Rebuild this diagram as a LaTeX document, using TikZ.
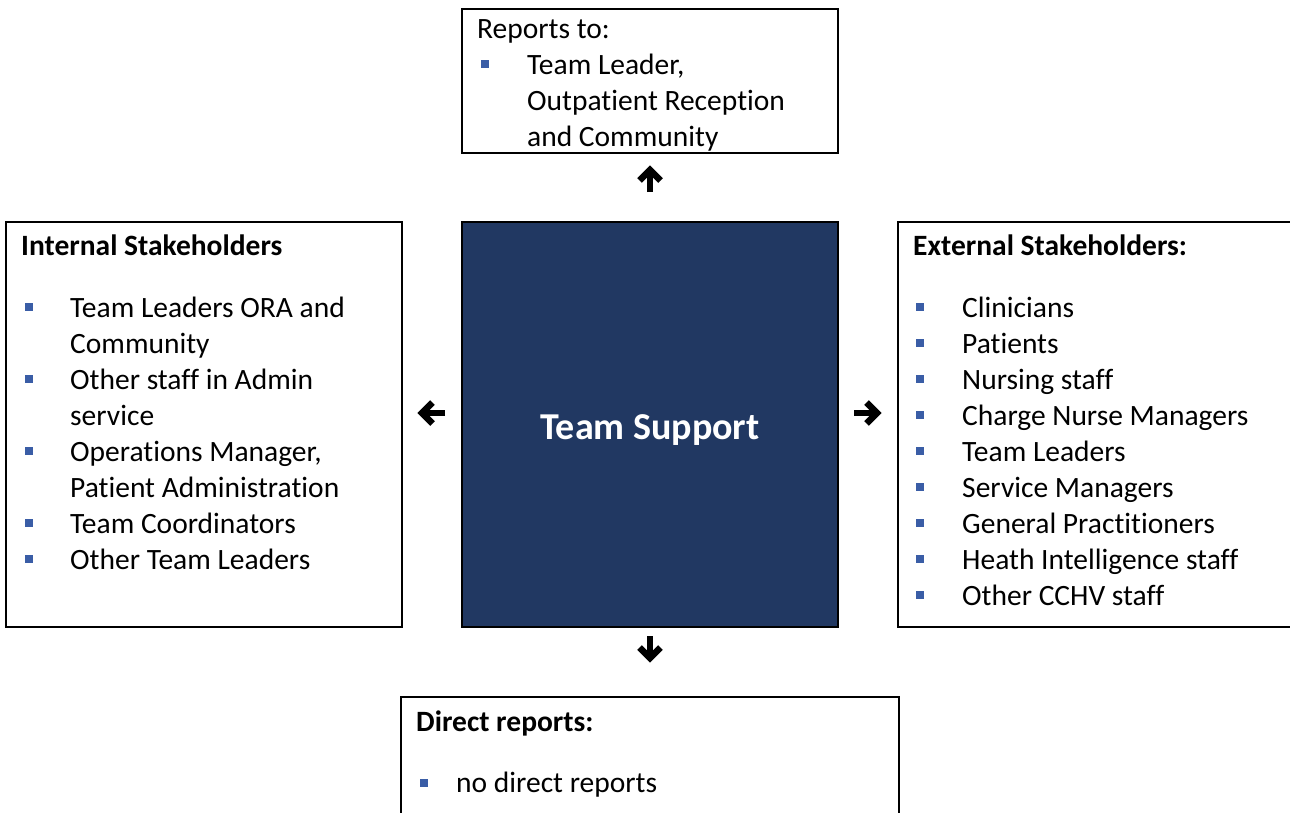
\documentclass[tikz,border=0pt]{standalone}
\usepackage{fontspec}
\setmainfont{Carlito}[Ligatures=NoCommon]
\usetikzlibrary{arrows.meta}
\definecolor{navy}{HTML}{213862}
\definecolor{bulletblue}{HTML}{3A5DA6}
\begin{document}
\begin{tikzpicture}[x=1pt,y=-1pt,
  boxframe/.style={draw=black, line width=2pt, inner sep=0pt, outer sep=0pt, anchor=north west},
  txt/.style={anchor=base west, inner sep=0pt, font=\fontsize{29.5}{36}\selectfont},
  hdr/.style={anchor=base west, inner sep=0pt, font=\fontsize{29.5}{36}\selectfont\bfseries},
  bul/.style={fill=bulletblue, minimum size=8pt, inner sep=0pt, draw=none},
  shaft/.style={line width=5.5pt},
  head/.style={line width=6.5pt, line join=miter}]
\useasboundingbox (0,0) rectangle (1290,812);

% boxes
\node[boxframe, minimum width=376pt, minimum height=144pt] (topbox) at (462,9) {};
\node[boxframe, fill=navy, minimum width=376pt, minimum height=405pt] (center) at (462,222) {};
\node[boxframe, minimum width=396pt, minimum height=405pt] (leftbox) at (6,222) {};
\node[boxframe, minimum width=420pt, minimum height=405pt] (rightbox) at (898,222) {};
\node[boxframe, minimum width=498pt, minimum height=150pt] (botbox) at (401,697) {};

% centre label
\node[anchor=base, inner sep=0pt, text=white, font=\fontsize{38}{42}\selectfont\bfseries] (ts) at (650,439) {Team Support};

% top box
\node[txt] (rt) at (477,38) {Reports to:};
\node[bul] (rb1) at (484.5,64) {};
\node[txt] (rt1) at (527,74) {Team Leader,};
\node[txt] (rt2) at (527,110) {Outpatient Reception};
\node[txt] (rt3) at (527,146) {and Community};

% left box
\node[hdr] (lh) at (21,255) {Internal Stakeholders};
\foreach \t/\yy [count=\i] in {{Team Leaders ORA and}/317, {Community}/353, {Other staff in Admin}/389, {service}/425, {Operations Manager,}/461, {Patient Administration}/497, {Team Coordinators}/533, {Other Team Leaders}/569}
  \node[txt] (lt\i) at (70,\yy) {\t};
\foreach \yy [count=\i] in {317,389,461,533,569}
  \node[bul] (lb\i) at (28.5,\yy-10) {};

% right box
\node[hdr] (rh) at (913,255) {External Stakeholders:};
\foreach \t/\yy [count=\i] in {{Clinicians}/317, {Patients}/353, {Nursing staff}/389, {Charge Nurse Managers}/425, {Team Leaders}/461, {Service Managers}/497, {General Practitioners}/533, {Heath Intelligence staff}/569, {Other CCHV staff}/605}
  {\node[txt] (xt\i) at (962,\yy) {\t};
   \node[bul] (xb\i) at (919.5,\yy-10) {};}

% bottom box
\node[hdr] (bh) at (416,731) {Direct reports:};
\node[bul] (bb1) at (423.5,782.5) {};
\node[txt] (bt1) at (456,792) {no direct reports};

% arrows (shaft from start to tip, chevron head at tip)
\coordinate (upS) at (650,192);
\coordinate (upE) at (650,170);
\coordinate (lfS) at (445,413);
\coordinate (lfE) at (422,413);
\coordinate (rtS) at (854,413);
\coordinate (rtE) at (877,413);
\coordinate (dnS) at (650,636);
\coordinate (dnE) at (650,658);
\draw[shaft] (upS) -- (upE);
\draw[head] ([shift={(-10.5,10.5)}]upE) -- (upE) -- ([shift={(10.5,10.5)}]upE);
\draw[shaft] (lfS) -- (lfE);
\draw[head] ([shift={(10.5,-10.5)}]lfE) -- (lfE) -- ([shift={(10.5,10.5)}]lfE);
\draw[shaft] (rtS) -- (rtE);
\draw[head] ([shift={(-10.5,-10.5)}]rtE) -- (rtE) -- ([shift={(-10.5,10.5)}]rtE);
\draw[shaft] (dnS) -- (dnE);
\draw[head] ([shift={(-10.5,-10.5)}]dnE) -- (dnE) -- ([shift={(10.5,-10.5)}]dnE);
\end{tikzpicture}
\end{document}
